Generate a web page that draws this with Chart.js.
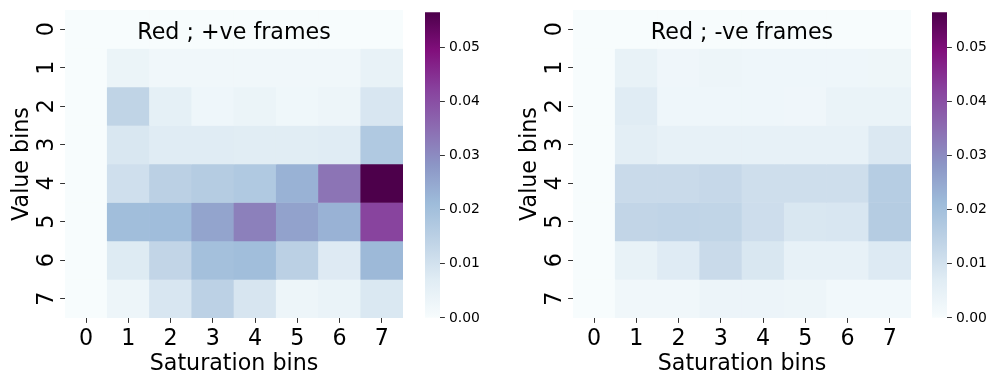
<!DOCTYPE html>
<html>
<head>
<meta charset="utf-8">
<script src="https://cdn.jsdelivr.net/npm/chart.js@4.4.1/dist/chart.umd.min.js"></script>
<style>
  body { margin: 0; background: #fff; }
  canvas { position: absolute; top: 0; }
</style>
</head>
<body>
<canvas id="posMap" width="410" height="383" style="left:0px"></canvas>
<canvas id="posBar" width="80" height="383" style="left:410px"></canvas>
<canvas id="negMap" width="410" height="383" style="left:508px"></canvas>
<canvas id="negBar" width="80" height="383" style="left:917px"></canvas>
<script>
// bins
const saturationBins = ['0', '1', '2', '3', '4', '5', '6', '7'];
const valueBins = [0, 1, 2, 3, 4, 5, 6, 7];
const colorbarTicks = [0, 0.01, 0.02, 0.03, 0.04, 0.05];
const vmin = 0;
const vmax = 0.0564;

// rows = value bins, columns = saturation bins
const posFrames = [
  [0, 0,      0,      0,      0,      0,      0,      0],
  [0, 0.0037, 0.0022, 0.0022, 0.0022, 0.0022, 0.0022, 0.0046],
  [0, 0.0139, 0.0055, 0.0027, 0.0037, 0.0024, 0.0030, 0.0088],
  [0, 0.0085, 0.0070, 0.0070, 0.0068, 0.0068, 0.0070, 0.0173],
  [0, 0.0107, 0.0150, 0.0162, 0.0173, 0.0230, 0.0338, 0.0564],
  [0, 0.0205, 0.0207, 0.0256, 0.0318, 0.0260, 0.0230, 0.0418],
  [0, 0.0074, 0.0134, 0.0198, 0.0205, 0.0150, 0.0075, 0.0217],
  [0, 0.0030, 0.0088, 0.0148, 0.0090, 0.0030, 0.0040, 0.0083]
];
const negFrames = [
  [0, 0,      0,      0,      0,      0,      0,      0],
  [0, 0.0045, 0.0025, 0.0030, 0.0027, 0.0027, 0.0027, 0.0028],
  [0, 0.0070, 0.0027, 0.0027, 0.0027, 0.0025, 0.0040, 0.0040],
  [0, 0.0060, 0.0050, 0.0050, 0.0050, 0.0050, 0.0050, 0.0082],
  [0, 0.0120, 0.0120, 0.0126, 0.0110, 0.0110, 0.0110, 0.0160],
  [0, 0.0134, 0.0138, 0.0136, 0.0112, 0.0085, 0.0087, 0.0162],
  [0, 0.0045, 0.0073, 0.0120, 0.0085, 0.0050, 0.0050, 0.0076],
  [0, 0.0022, 0.0022, 0.0035, 0.0035, 0.0030, 0.0018, 0.0018]
];

// matplotlib BuPu
const buPu = ['#f7fcfd', '#e0ecf4', '#bfd3e6', '#9ebcda', '#8c96c6', '#8c6bb1', '#88419d', '#810f7c', '#4d004b'];
const buPuRgb = buPu.map(h => [1, 3, 5].map(i => parseInt(h.substr(i, 2), 16)));

function cmap(v) {
  let t = (v - vmin) / (vmax - vmin);
  t = Math.max(0, Math.min(1, t)) * (buPu.length - 1);
  const i = Math.min(Math.floor(t), buPu.length - 2);
  const f = t - i;
  const a = buPuRgb[i], b = buPuRgb[i + 1];
  const c = a.map((x, k) => Math.round(x + (b[k] - x) * f));
  return `rgb(${c[0]},${c[1]},${c[2]})`;
}

const FONT = 'DejaVu Sans';
const BIG = 22.2;
const TICK_PX = 4.9;

// title inside the axes + rotated y tick labels (matplotlib style)
const heatText = {
  id: 'heatText',
  afterDraw(chart, args, opts) {
    const { ctx, chartArea } = chart;
    const y = chart.scales.y;
    ctx.save();
    ctx.font = `${BIG}px "${FONT}"`;
    ctx.fillStyle = '#000';
    ctx.textAlign = 'center';
    ctx.textBaseline = 'middle';
    ctx.fillText(opts.text, (chartArea.left + chartArea.right) / 2, chartArea.top + 23);
    y.ticks.forEach((t, i) => {
      ctx.save();
      ctx.translate(chartArea.left - 12, y.getPixelForValue(t.value));
      ctx.rotate(-Math.PI / 2);
      ctx.textBaseline = 'alphabetic';
      ctx.fillText(String(valueBins[i]), 0, 0);
      ctx.restore();
    });
    ctx.restore();
  }
};

function heatmap(id, title, matrix) {
  const datasets = valueBins.map(r => ({
    data: saturationBins.map(() => [r, r + 1]),
    backgroundColor: saturationBins.map((s, c) => cmap(matrix[r][c])),
    borderWidth: 0,
    grouped: false,
    barPercentage: 1,
    categoryPercentage: 1
  }));
  new Chart(document.getElementById(id), {
    type: 'bar',
    data: { labels: saturationBins, datasets },
    plugins: [heatText],
    options: {
      responsive: false,
      animation: false,
      layout: { padding: { top: 10, right: 7, left: 0, bottom: 0 } },
      plugins: {
        legend: { display: false },
        tooltip: { enabled: false },
        heatText: { text: title }
      },
      scales: {
        x: {
          grid: { offset: false, drawOnChartArea: false, tickLength: TICK_PX, tickColor: '#000', tickWidth: 0.8 },
          border: { display: false },
          ticks: { color: '#000', font: { family: FONT, size: BIG }, padding: 3, maxRotation: 0 },
          title: { display: true, text: 'Saturation bins', color: '#000', font: { family: FONT, size: BIG }, padding: { top: 0, bottom: 5 } },
          afterFit(s) { s.height = 65; }
        },
        y: {
          type: 'linear',
          min: 0,
          max: 8,
          reverse: true,
          afterBuildTicks(s) { s.ticks = valueBins.map(v => ({ value: v + 0.5 })); },
          grid: { drawOnChartArea: false, tickLength: TICK_PX, tickColor: '#000', tickWidth: 0.8 },
          border: { display: false },
          ticks: { display: false },
          title: { display: true, text: 'Value bins', color: '#000', font: { family: FONT, size: BIG }, padding: { top: 9, bottom: 0 } },
          afterFit(s) { s.width = 65; }
        }
      }
    }
  });
}

function colorbar(id) {
  new Chart(document.getElementById(id), {
    type: 'bar',
    data: {
      labels: [''],
      datasets: [{
        data: [[vmin, vmax]],
        borderWidth: 0,
        barPercentage: 1,
        categoryPercentage: 1,
        backgroundColor(ctx) {
          const area = ctx.chart.chartArea;
          if (!area) return buPu[0];
          const g = ctx.chart.ctx.createLinearGradient(0, area.bottom, 0, area.top);
          buPu.forEach((c, i) => g.addColorStop(i / (buPu.length - 1), c));
          return g;
        }
      }]
    },
    options: {
      responsive: false,
      animation: false,
      layout: { padding: { top: 10, left: 15, right: 0, bottom: 65 } },
      plugins: { legend: { display: false }, tooltip: { enabled: false } },
      scales: {
        x: { display: false },
        y: {
          position: 'right',
          min: vmin,
          max: vmax,
          afterBuildTicks(s) { s.ticks = colorbarTicks.map(v => ({ value: v })); },
          grid: { drawOnChartArea: false, tickLength: TICK_PX, tickColor: '#000', tickWidth: 0.8 },
          border: { display: false },
          ticks: { color: '#000', font: { family: FONT, size: 13.9 }, padding: 4, callback: v => v.toFixed(2) },
          afterFit(s) { s.width = 50; }
        }
      }
    }
  });
}

heatmap('posMap', 'Red ; +ve frames', posFrames);
colorbar('posBar');
heatmap('negMap', 'Red ; -ve frames', negFrames);
colorbar('negBar');
</script>
</body>
</html>
